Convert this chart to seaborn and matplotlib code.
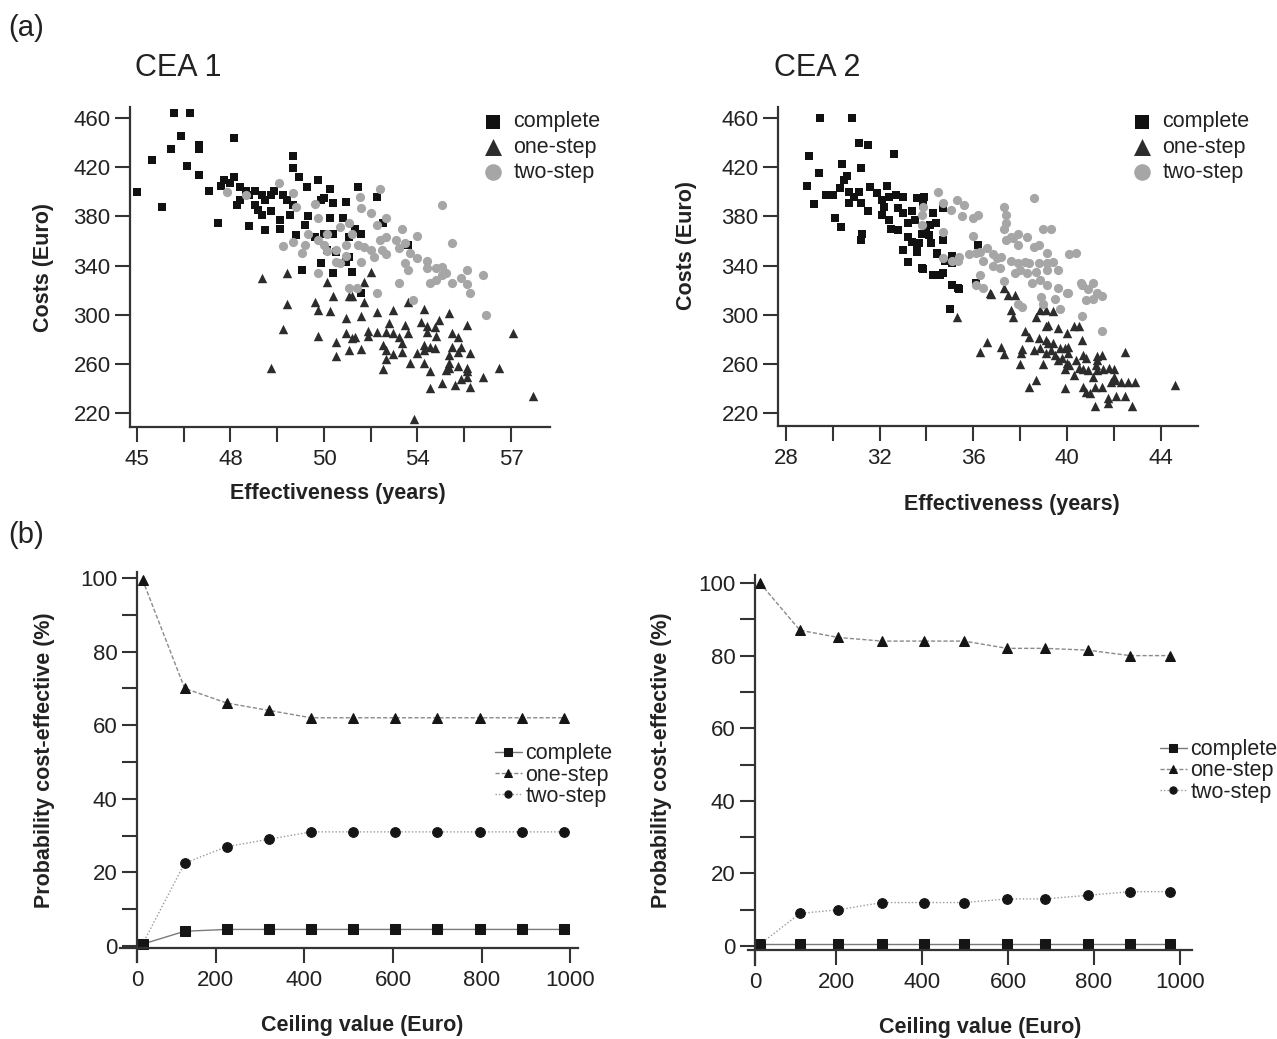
import numpy as np
import pandas as pd
import matplotlib
matplotlib.use("Agg")
import matplotlib.pyplot as plt
import seaborn as sns

sns.set_style("ticks")
plt.rcParams['font.family'] = ['Liberation Sans', 'DejaVu Sans']
plt.rcParams['text.color'] = '#222222'
plt.rcParams['axes.labelcolor'] = '#222222'

# ---- (a) cost-effectiveness planes: (effectiveness in years, costs in Euro)
cea1_complete = [(45.0, 400), (45.5, 426), (45.8, 388), (46.2, 464), (46.7, 464), (46.4, 445),
                 (46.1, 435), (47.0, 435), (47.0, 438), (46.6, 421), (47.0, 414), (48.1, 444),
                 (47.3, 401), (47.7, 405), (47.6, 375), (48.1, 412), (48.6, 372), (49.1, 369),
                 (49.6, 370), (50.0, 429), (50.0, 419), (50.2, 412), (50.8, 410), (50.9, 393),
                 (50.3, 336), (50.9, 342), (50.45, 404), (51.2, 402), (52.1, 404), (52.7, 396),
                 (51.0, 395), (51.3, 391), (51.7, 392), (50.5, 380), (51.2, 379), (51.6, 379),
                 (52.0, 370), (52.2, 366), (50.7, 363), (51.0, 366), (51.3, 366), (51.8, 363),
                 (51.1, 353), (51.4, 351), (51.8, 347), (51.7, 343), (51.3, 334), (51.9, 335),
                 (52.9, 375), (53.7, 357), (52.2, 318), (47.8, 410), (48.0, 407), (48.3, 404),
                 (48.5, 401), (48.6, 397), (48.8, 401), (49.0, 397), (49.1, 393), (48.3, 393),
                 (48.2, 389), (48.8, 389), (48.9, 385), (49.3, 397), (49.4, 401), (49.7, 397),
                 (49.8, 393), (50.0, 389), (50.4, 373), (49.9, 381), (49.6, 377), (49.3, 384),
                 (49.0, 381), (50.1, 365)]
cea1_one_step = [(49.0, 330), (49.8, 334), (49.8, 309), (49.7, 288), (49.3, 257), (50.7, 310),
                 (50.8, 304), (50.8, 283), (51.1, 327), (51.2, 303), (51.3, 315), (51.4, 278),
                 (51.4, 266), (51.7, 297), (51.7, 285), (51.8, 271), (51.9, 281), (51.8, 315),
                 (51.9, 315), (52.5, 335), (52.3, 327), (52.3, 310), (52.7, 302), (53.2, 304),
                 (53.7, 310), (54.2, 305), (55.0, 301), (55.6, 292), (57.05, 285), (52.2, 299),
                 (53.1, 293), (53.6, 292), (54.1, 294), (54.7, 296), (52.0, 282), (52.2, 272),
                 (52.4, 287), (52.4, 283), (52.7, 286), (53.0, 286), (53.2, 285), (53.4, 282),
                 (53.7, 285), (54.3, 291), (54.3, 286), (54.55, 290), (54.6, 283), (55.1, 285),
                 (55.3, 282), (52.9, 275), (53.0, 271), (53.2, 268), (53.0, 264), (52.9, 256),
                 (53.5, 277), (53.5, 270), (53.75, 261), (54.0, 269), (54.2, 275), (54.2, 271),
                 (54.4, 274), (54.2, 261), (54.4, 254), (54.55, 273), (55.1, 274), (55.0, 267),
                 (55.4, 274), (55.3, 270), (55.7, 269), (55.0, 261), (55.3, 258), (54.9, 255),
                 (55.0, 257), (55.6, 257), (55.6, 254), (55.6, 249), (55.4, 248), (56.1, 249),
                 (56.6, 257), (54.4, 240), (54.8, 244), (55.2, 243), (55.7, 241), (57.7, 234),
                 (53.9, 215)]
cea1_two_step = [(47.9, 400), (48.5, 397), (49.55, 407), (50.0, 399), (50.1, 388), (50.7, 390),
                 (49.7, 356), (50.0, 359), (50.3, 350), (50.4, 357), (50.5, 366), (50.8, 361),
                 (51.1, 366), (51.0, 357), (51.1, 352), (51.4, 353), (51.7, 357), (51.4, 343),
                 (51.7, 348), (50.8, 334), (51.8, 322), (52.05, 322), (52.8, 402), (52.15, 396),
                 (52.2, 387), (52.5, 383), (52.7, 373), (53.0, 379), (53.5, 370), (54.0, 364),
                 (54.8, 389), (55.1, 358), (50.8, 379), (51.8, 375), (51.5, 371), (51.9, 366),
                 (52.1, 357), (52.3, 355), (52.5, 353), (52.8, 361), (52.85, 353), (53.0, 363),
                 (53.3, 361), (53.4, 354), (53.6, 358), (53.75, 350), (53.0, 349), (52.6, 347),
                 (52.2, 343), (51.5, 342), (53.6, 342), (53.7, 336), (54.0, 346), (54.3, 344),
                 (54.3, 338), (54.6, 338), (54.8, 339), (54.8, 332), (54.9, 334), (54.6, 328),
                 (54.4, 326), (55.1, 326), (55.4, 330), (55.6, 336), (55.6, 325), (55.7, 318),
                 (56.1, 332), (56.2, 300), (53.4, 326), (52.7, 318), (53.85, 312)]

cea2_complete = [(29.45, 460), (30.8, 460), (31.1, 440), (31.5, 438), (32.6, 431), (29.0, 429),
                 (30.4, 423), (31.2, 419), (29.4, 415), (28.9, 405), (29.2, 390), (29.7, 397),
                 (30.0, 397), (30.3, 403), (30.5, 410), (30.6, 413), (30.1, 379), (30.35, 371),
                 (30.7, 400), (30.7, 391), (30.9, 396), (31.1, 400), (31.2, 391), (31.25, 366),
                 (31.2, 361), (31.6, 404), (31.5, 384), (31.9, 399), (32.1, 393), (32.2, 388),
                 (32.3, 405), (32.4, 396), (32.1, 381), (32.4, 377), (32.5, 370), (32.7, 397),
                 (33.0, 396), (32.8, 387), (32.8, 369), (33.2, 363), (33.2, 343), (33.0, 353),
                 (33.0, 383), (33.2, 375), (33.4, 384), (33.5, 377), (33.6, 355), (33.7, 358),
                 (33.8, 395), (33.85, 389), (34.0, 371), (34.1, 365), (34.3, 383), (34.4, 375),
                 (33.85, 337), (34.45, 350), (34.7, 361), (34.8, 344), (34.3, 332), (34.6, 332),
                 (35.1, 324), (35.35, 322), (35.0, 305), (33.6, 395), (33.9, 396), (34.7, 387),
                 (34.15, 373), (33.4, 359), (33.8, 366), (34.2, 358), (33.6, 351), (34.45, 349),
                 (35.1, 348), (33.8, 338), (35.1, 342), (34.7, 334), (36.2, 357), (36.1, 326),
                 (35.4, 321)]
cea2_one_step = [(35.3, 298), (36.3, 270), (36.6, 278), (37.2, 274), (37.3, 268), (36.75, 317),
                 (37.3, 322), (37.5, 316), (37.8, 316), (37.6, 304), (37.7, 298), (38.05, 269),
                 (38.1, 272), (38.0, 260), (38.4, 241), (38.7, 247), (38.85, 304), (39.1, 304),
                 (39.4, 303), (38.7, 298), (39.1, 291), (39.2, 292), (39.6, 289), (38.2, 287),
                 (38.4, 282), (38.8, 281), (38.6, 271), (38.85, 273), (39.1, 279), (39.2, 277),
                 (39.1, 269), (39.0, 260), (39.4, 277), (39.3, 271), (39.5, 267), (39.6, 263),
                 (39.7, 273), (39.9, 273), (40.05, 274), (40.05, 269), (39.8, 265), (40.0, 261),
                 (39.9, 256), (40.1, 259), (40.3, 251), (39.9, 240), (40.0, 285), (40.3, 291),
                 (40.5, 291), (40.65, 279), (40.4, 263), (40.5, 257), (40.7, 267), (40.8, 265),
                 (40.7, 256), (40.9, 255), (40.7, 241), (40.8, 237), (41.0, 236), (41.2, 241),
                 (41.5, 241), (41.3, 266), (41.3, 263), (41.5, 267), (41.25, 259), (41.3, 255),
                 (41.55, 256), (41.8, 257), (42.0, 256), (41.1, 249), (42.0, 249), (41.9, 245),
                 (42.05, 247), (42.3, 245), (42.6, 245), (42.9, 245), (42.5, 270), (42.1, 234),
                 (42.5, 234), (41.75, 232), (41.75, 228), (41.2, 226), (42.8, 226), (44.6, 243),
                 (36.7, 318)]
cea2_two_step = [(34.5, 400), (34.7, 391), (33.85, 388), (33.8, 381), (33.8, 373), (34.7, 367),
                 (35.3, 393), (35.6, 389), (35.05, 385), (35.5, 380), (36.0, 379), (36.2, 381),
                 (36.0, 364), (38.6, 395), (37.3, 388), (37.4, 375), (37.3, 370), (39.0, 370),
                 (39.3, 370), (38.3, 363), (37.7, 362), (37.4, 361), (37.9, 357), (38.6, 355),
                 (38.8, 357), (39.15, 350), (40.1, 349), (40.4, 350), (36.6, 354), (36.3, 351),
                 (36.1, 350), (35.8, 349), (35.4, 347), (35.35, 344), (36.4, 344), (36.85, 349),
                 (37.0, 346), (37.2, 347), (37.6, 344), (37.9, 342), (38.2, 343), (38.4, 342),
                 (38.8, 342), (39.15, 342), (39.4, 343), (39.6, 336), (39.15, 336), (38.7, 335),
                 (38.3, 334), (38.0, 336), (37.8, 334), (37.15, 338), (36.85, 340), (36.3, 332),
                 (37.3, 327), (38.5, 326), (38.85, 328), (39.15, 324), (39.6, 322), (40.0, 318),
                 (40.6, 326), (40.65, 324), (41.1, 326), (40.9, 321), (41.3, 318), (41.5, 315),
                 (41.1, 313), (40.8, 312), (39.5, 313), (38.9, 314), (36.4, 322), (37.9, 309),
                 (38.1, 306), (39.0, 309), (39.7, 305), (40.65, 299), (41.5, 287), (36.1, 324),
                 (37.4, 381), (37.6, 363), (37.9, 366), (34.7, 346), (35.1, 344), (40.05, 318)]

# ---- (b) acceptability curves: probability cost-effective (%) vs ceiling value (Euro)
ceiling_1 = [35, 130, 225, 320, 415, 510, 605, 700, 795, 890, 985]
prob1_complete = [0.5, 4, 4.5, 4.5, 4.5, 4.5, 4.5, 4.5, 4.5, 4.5, 4.5]
prob1_one_step = [99.5, 70, 66, 64, 62, 62, 62, 62, 62, 62, 62]
prob1_two_step = [0.5, 22.5, 27, 29, 31, 31, 31, 31, 31, 31, 31]
ceiling_2 = [23, 116, 205, 307, 405, 498, 598, 686, 786, 884, 977]
prob2_complete = [0.5, 0.5, 0.5, 0.5, 0.5, 0.5, 0.5, 0.5, 0.5, 0.5, 0.5]
prob2_one_step = [100, 87, 85, 84, 84, 84, 82, 82, 81.5, 80, 80]
prob2_two_step = [0.5, 9, 10, 12, 12, 12, 13, 13, 14, 15, 15]

strategies = ['complete', 'one-step', 'two-step']

W, H = 1277, 1039
fig = plt.figure(figsize=(W / 100, H / 100), dpi=100)


def box(l, t, r, b):
    return [l / W, 1 - b / H, (r - l) / W, (b - t) / H]


def style_axes(ax):
    sns.despine(ax=ax)
    for s in ['left', 'bottom']:
        ax.spines[s].set_linewidth(1.6)
        ax.spines[s].set_color('#333333')
    ax.tick_params(direction='out', length=11, width=1.5, color='#333333',
                   labelsize=16, labelcolor='#222222')
    ax.tick_params(axis='y', pad=3)
    ax.tick_params(axis='x', pad=5)


scatter_style = {
    'complete': dict(marker='s', color='#111111', s=34),
    'one-step': dict(marker='^', color='#2c2c2c', s=46),
    'two-step': dict(marker='o', color='#a6a6a6', s=44),
}


def scatter_panel(ax, series, legend_xy):
    for name, pts in zip(strategies, series):
        df = pd.DataFrame(pts, columns=['eff', 'cost'])
        st = scatter_style[name]
        sns.scatterplot(data=df, x='eff', y='cost', ax=ax, marker=st['marker'],
                        color=st['color'], s=st['s'], linewidth=0, label=name,
                        legend=False)
    ax.legend(loc='center left', bbox_to_anchor=legend_xy, bbox_transform=fig.transFigure,
              frameon=False, borderpad=0, borderaxespad=0, handlelength=1.0,
              handletextpad=0.45, labelspacing=0.2, markerscale=1.8, fontsize=15.5)
    ax.set_yticks([220, 260, 300, 340, 380, 420, 460])
    style_axes(ax)


# CEA 1
ax1 = fig.add_axes(box(130, 107, 550, 427))
scatter_panel(ax1, [cea1_complete, cea1_one_step, cea1_two_step], (482 / W, 1 - 147 / H))
ax1.set_xlim(44.78, 58.25)
ax1.set_ylim(208.6, 469)
ax1.set_xticks([45, 46.5, 48, 49.5, 51, 52.5, 54, 55.5, 57])
ax1.set_xticklabels(['45', '', '48', '', '50', '', '54', '', '57'])
ax1.set_xlabel('Effectiveness (years)', fontsize=15.5, fontweight='bold', va='center')
ax1.set_ylabel('Costs (Euro)', fontsize=15.5, fontweight='bold', va='center')
ax1.xaxis.set_label_coords(0.495, -0.209)
ax1.yaxis.set_label_coords(-0.207, 0.5)

# CEA 2
ax2 = fig.add_axes(box(778, 107, 1198, 426))
scatter_panel(ax2, [cea2_complete, cea2_one_step, cea2_two_step], (1131 / W, 1 - 147 / H))
ax2.set_xlim(27.66, 45.6)
ax2.set_ylim(209.4, 469)
ax2.set_xticks([28, 30, 32, 34, 36, 38, 40, 42, 44])
ax2.set_xticklabels(['28', '', '32', '', '36', '', '40', '', '44'])
ax2.set_xlabel('Effectiveness (years)', fontsize=15.5, fontweight='bold', va='center')
ax2.set_ylabel('Costs (Euro)', fontsize=15.5, fontweight='bold', va='center')
ax2.xaxis.set_label_coords(0.557, -0.245)
ax2.yaxis.set_label_coords(-0.219, 0.567)

fig.text(178 / W, 1 - 68 / H, 'CEA 1', fontsize=22, ha='center', va='center')
fig.text(817 / W, 1 - 68 / H, 'CEA 2', fontsize=22, ha='center', va='center')
fig.text(8 / W, 1 - 28 / H, '(a)', fontsize=21, ha='left', va='center')
fig.text(8 / W, 1 - 535 / H, '(b)', fontsize=21, ha='left', va='center')


def curve_panel(ax, ceiling, probs, legend_xy):
    frames = []
    for name, p in zip(strategies, probs):
        frames.append(pd.DataFrame({'ceiling': ceiling, 'prob': p, 'strategy': name}))
    df = pd.concat(frames, ignore_index=True)
    sns.lineplot(data=df, x='ceiling', y='prob', hue='strategy', style='strategy',
                 palette={'complete': '#7a7a7a', 'one-step': '#8a8a8a', 'two-step': '#9a9a9a'},
                 markers={'complete': 's', 'one-step': '^', 'two-step': 'o'},
                 dashes={'complete': '', 'one-step': (3, 1.5), 'two-step': (1, 1.5)},
                 markersize=7, mfc='#151515', mec='#151515', lw=1.0, estimator=None,
                 sort=False, legend=False, ax=ax, clip_on=False)
    ax.legend(handles=ax.lines[:3], labels=strategies, loc='center left',
              bbox_to_anchor=legend_xy, bbox_transform=fig.transFigure, frameon=False,
              borderpad=0, borderaxespad=0, handlelength=1.25, handletextpad=0.15,
              labelspacing=0.02, markerscale=0.75, fontsize=15.5)
    ax.set_yticks(range(0, 101, 10))
    ax.set_yticklabels([str(v) if v % 20 == 0 else '' for v in range(0, 101, 10)])
    ax.set_xlabel('Ceiling value (Euro)', fontsize=15.5, fontweight='bold', va='center')
    ax.set_ylabel('Probability cost-effective (%)', fontsize=15.5, fontweight='bold',
                  va='center')
    style_axes(ax)


ax3 = fig.add_axes(box(120, 572, 578, 962))
curve_panel(ax3, ceiling_1, [prob1_complete, prob1_one_step, prob1_two_step],
            (495 / W, 1 - 775 / H))
ax3.set_xlim(-15.8, 1017)
ax3.set_ylim(-4.35, 101.6)
ax3.spines['left'].set_position(('data', 22.6))
ax3.spines['bottom'].set_position(('data', -0.54))
ax3.set_xticks([22.6, 200, 400, 600, 800, 1000])
ax3.set_xticklabels(['0', '200', '400', '600', '800', '1000'])
ax3.xaxis.set_label_coords(0.528, -0.162)
ax3.yaxis.set_label_coords(-0.164, 0.518)

ax4 = fig.add_axes(box(748, 575, 1192, 965))
curve_panel(ax4, ceiling_2, [prob2_complete, prob2_one_step, prob2_two_step],
            (1160 / W, 1 - 771 / H))
ax4.set_xlim(-4.7, 1028)
ax4.set_ylim(-5.2, 102.2)
ax4.spines['left'].set_position(('data', 11.6))
ax4.spines['bottom'].set_position(('data', -1.1))
ax4.set_xticks([11.6, 200, 400, 600, 800, 1000])
ax4.set_xticklabels(['0', '200', '400', '600', '800', '1000'])
ax4.xaxis.set_label_coords(0.523, -0.159)
ax4.yaxis.set_label_coords(-0.194, 0.526)

fig.savefig('out.png', dpi=100)
